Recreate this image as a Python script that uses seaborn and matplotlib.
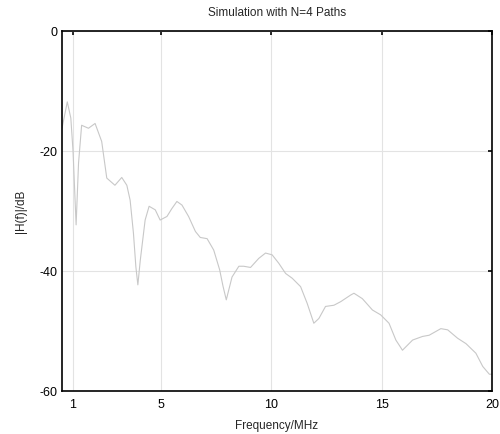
import matplotlib
matplotlib.use("Agg")
import matplotlib.pyplot as plt
import seaborn as sns
import pandas as pd

# frequency response (MHz, dB)
freq_mhz = [0.5, 0.74, 0.9, 1.0, 1.14, 1.25, 1.39, 1.7, 2.0, 2.3, 2.53, 2.9, 3.21,
            3.44, 3.59, 3.74, 3.85, 3.94, 4.05, 4.27, 4.45, 4.73, 4.95, 5.26, 5.48,
            5.71, 5.94, 6.24, 6.55, 6.77, 7.08, 7.38, 7.65, 7.8, 7.95, 8.21, 8.52,
            8.74, 9.05, 9.42, 9.73, 10.03, 10.33, 10.64, 10.94, 11.32, 11.62, 11.92,
            12.15, 12.45, 12.83, 13.14, 13.59, 13.74, 14.12, 14.58, 14.95, 15.33,
            15.64, 15.94, 16.4, 16.85, 17.15, 17.68, 17.99, 18.44, 18.82, 19.27,
            19.58, 19.88, 20.0]
gain_db = [-16.2, -11.8, -14.5, -20.0, -32.3, -22.0, -15.7, -16.2, -15.4, -18.4,
           -24.5, -25.7, -24.4, -25.7, -28.2, -33.7, -39.3, -42.3, -38.2, -31.5,
           -29.2, -29.8, -31.5, -30.9, -29.6, -28.4, -29.0, -30.9, -33.4, -34.4,
           -34.6, -36.5, -39.8, -42.5, -44.8, -41.0, -39.2, -39.2, -39.4, -37.9,
           -37.0, -37.3, -38.7, -40.4, -41.2, -42.6, -45.4, -48.7, -47.9, -45.9,
           -45.7, -45.1, -44.0, -43.7, -44.6, -46.5, -47.3, -48.7, -51.5, -53.2,
           -51.5, -50.9, -50.7, -49.6, -49.8, -51.2, -52.1, -53.7, -55.9, -57.2,
           -57.2]
x_ticks = [1, 5, 10, 15, 20]
y_ticks = [0, -20, -40, -60]

df = pd.DataFrame({"f": freq_mhz, "h": gain_db})

sns.set_style("white")
plt.rcParams["font.family"] = ["Liberation Sans", "DejaVu Sans"]
plt.rcParams["axes.unicode_minus"] = False

fig = plt.figure(figsize=(5, 4.34), dpi=100)
ax = fig.add_axes([0.124, 0.099, 0.86, 0.8294])

sns.lineplot(data=df, x="f", y="h", ax=ax, color="#c8c8c8", linewidth=0.8)

ax.set_xlim(0.5, 20)
ax.set_ylim(-60, 0)
ax.set_xticks(x_ticks)
ax.set_yticks(y_ticks)
ax.grid(True, color="#e3e3e3", linewidth=0.8)
ax.tick_params(direction="in", length=3, width=1.2, top=True, right=True,
               labelsize=9, colors="black")
ax.tick_params(axis="x", pad=6)
ax.tick_params(axis="y", pad=3)
for s in ax.spines.values():
    s.set_visible(True)
    s.set_color("black")
    s.set_linewidth(1.2)

ax.set_xlabel("Frequency/MHz", fontsize=8.5, labelpad=6)
ax.set_ylabel("|H(f)|/dB", fontsize=8.5, labelpad=9)
ax.set_title("Simulation with N=4 Paths", fontsize=8.5, pad=11)

fig.savefig("out.png", dpi=100)
